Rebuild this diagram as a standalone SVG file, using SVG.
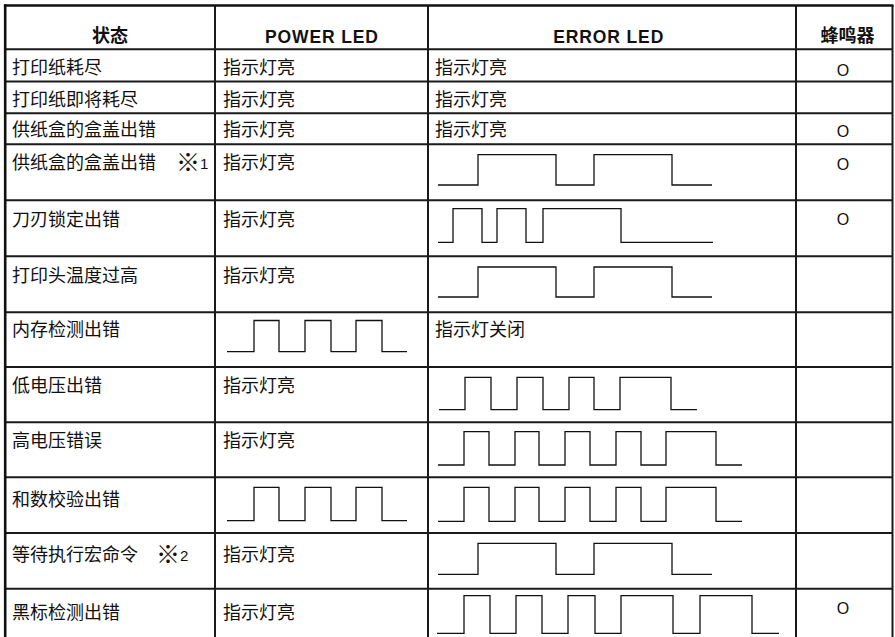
<svg xmlns="http://www.w3.org/2000/svg" width="895" height="637" viewBox="0 0 895 637">
<style>
.cj{font-family:"Noto Sans CJK SC","Noto Sans",sans-serif;font-size:18px;fill:#111}
.hd{font-family:"Noto Sans CJK SC",sans-serif;font-size:18px;font-weight:bold;fill:#111}
.hl{font-family:"Liberation Sans",Arial,sans-serif;font-size:17.5px;font-weight:bold;fill:#111}
.o{font-family:"Liberation Sans",Arial,sans-serif;font-size:16px;fill:#111;text-anchor:middle}
.n{font-family:"Liberation Sans",Arial,sans-serif;font-size:15px;fill:#111}
.rm{font-family:"Noto Sans CJK SC",sans-serif;font-size:24px;fill:#111}
.grid{stroke:#1a1a1a;stroke-width:2;fill:none}
.outer{stroke:#111;stroke-width:2.6;fill:none}
.wave{stroke:#111;stroke-width:1.3;fill:none;stroke-linejoin:miter}
</style>
<rect width="895" height="637" fill="#fff"/>
<g id="grid">
<line class="grid" x1="5" y1="49.3" x2="893" y2="49.3"/>
<line class="grid" x1="5" y1="81.6" x2="893" y2="81.6"/>
<line class="grid" x1="5" y1="113.2" x2="893" y2="113.2"/>
<line class="grid" x1="5" y1="144.2" x2="893" y2="144.2"/>
<line class="grid" x1="5" y1="200.2" x2="893" y2="200.2"/>
<line class="grid" x1="5" y1="256.2" x2="893" y2="256.2"/>
<line class="grid" x1="5" y1="312.2" x2="893" y2="312.2"/>
<line class="grid" x1="5" y1="367" x2="893" y2="367"/>
<line class="grid" x1="5" y1="422.3" x2="893" y2="422.3"/>
<line class="grid" x1="5" y1="477.3" x2="893" y2="477.3"/>
<line class="grid" x1="5" y1="533" x2="893" y2="533"/>
<line class="grid" x1="5" y1="588.7" x2="893" y2="588.7"/>
<line class="grid" x1="215" y1="5" x2="215" y2="637"/>
<line class="grid" x1="428" y1="5" x2="428" y2="637"/>
<line class="grid" x1="796" y1="5" x2="796" y2="637"/>
<line class="grid" x1="892.5" y1="5" x2="892.5" y2="637"/>
<line class="outer" x1="3.9" y1="5.5" x2="893.5" y2="5.5"/>
<line class="outer" x1="5.2" y1="4.2" x2="5.2" y2="637"/>
</g>
<g id="header">
<text class="hd" x="110" y="42" text-anchor="middle">状态</text>
<text class="hl" x="321.5" y="43.3" text-anchor="middle" textLength="113" lengthAdjust="spacing">POWER LED</text>
<text class="hl" x="608.3" y="43.3" text-anchor="middle" textLength="110" lengthAdjust="spacing">ERROR LED</text>
<text class="hd" x="847.5" y="42" text-anchor="middle">蜂鸣器</text>
</g>
<g id="row1">
<text class="cj" x="12" y="74">打印纸耗尽</text>
<text class="cj" x="223" y="74">指示灯亮</text>
<text class="cj" x="435" y="74">指示灯亮</text>
<text class="o" x="843" y="75.5">O</text>
</g>
<g id="row2">
<text class="cj" x="12" y="105.5">打印纸即将耗尽</text>
<text class="cj" x="223" y="105.5">指示灯亮</text>
<text class="cj" x="435" y="105.5">指示灯亮</text>
</g>
<g id="row3">
<text class="cj" x="12" y="136.3">供纸盒的盒盖出错</text>
<text class="cj" x="223" y="136.3">指示灯亮</text>
<text class="cj" x="435" y="136.3">指示灯亮</text>
<text class="o" x="843" y="137">O</text>
</g>
<g id="row4">
<text class="cj" x="12" y="169.3">供纸盒的盒盖出错</text>
<text class="rm" x="176" y="171">※<tspan class="n" dx="0" dy="-2">1</tspan></text>
<text class="cj" x="223" y="169.3">指示灯亮</text>
<polyline class="wave" points="438,185 478,185 478,154.7 556,154.7 556,185 594,185 594,154.7 672,154.7 672,185 712,185"/>
<text class="o" x="843" y="169.5">O</text>
</g>
<g id="row5">
<text class="cj" x="12" y="226">刀刃锁定出错</text>
<text class="cj" x="223" y="226">指示灯亮</text>
<polyline class="wave" points="438,242.3 453,242.3 453,208.7 482,208.7 482,242.3 497,242.3 497,208.7 526,208.7 526,242.3 543,242.3 543,208.7 621,208.7 621,242.3 713,242.3"/>
<text class="o" x="843" y="225">O</text>
</g>
<g id="row6">
<text class="cj" x="12" y="282">打印头温度过高</text>
<text class="cj" x="223" y="282">指示灯亮</text>
<polyline class="wave" points="438,297 478,297 478,267 556,267 556,297 594,297 594,267 672,267 672,297 712,297"/>
</g>
<g id="row7">
<text class="cj" x="12" y="336">内存检测出错</text>
<polyline class="wave" points="227,351.7 254,351.7 254,320.5 279,320.5 279,351.7 305,351.7 305,320.5 331,320.5 331,351.7 356,351.7 356,320.5 382,320.5 382,351.7 407,351.7"/>
<text class="cj" x="435" y="336">指示灯关闭</text>
</g>
<g id="row8">
<text class="cj" x="12" y="392">低电压出错</text>
<text class="cj" x="223" y="392">指示灯亮</text>
<polyline class="wave" points="439,409.7 465,409.7 465,377.3 491,377.3 491,409.7 517,409.7 517,377.3 543,377.3 543,409.7 569,409.7 569,377.3 594,377.3 594,409.7 620,409.7 620,377.3 671,377.3 671,409.7 697,409.7"/>
</g>
<g id="row9">
<text class="cj" x="12" y="447">高电压错误</text>
<text class="cj" x="223" y="447">指示灯亮</text>
<polyline class="wave" points="438,465 464,465 464,431.7 489,431.7 489,465 515,465 515,431.7 539,431.7 539,465 565,465 565,431.7 590,431.7 590,465 616,465 616,431.7 641,431.7 641,465 666,465 666,431.7 716,431.7 716,465 742,465"/>
</g>
<g id="row10">
<text class="cj" x="12" y="506">和数校验出错</text>
<polyline class="wave" points="227,520.7 254,520.7 254,487.3 279,487.3 279,520.7 305,520.7 305,487.3 331,487.3 331,520.7 356,520.7 356,487.3 382,487.3 382,520.7 407,520.7"/>
<polyline class="wave" points="438,521.3 464,521.3 464,487.3 489,487.3 489,521.3 515,521.3 515,487.3 539,487.3 539,521.3 565,521.3 565,487.3 590,487.3 590,521.3 616,521.3 616,487.3 641,487.3 641,521.3 666,521.3 666,487.3 716,487.3 716,521.3 742,521.3"/>
</g>
<g id="row11">
<text class="cj" x="12" y="561">等待执行宏命令</text>
<text class="rm" x="156" y="563">※<tspan class="n" dx="0" dy="-2">2</tspan></text>
<text class="cj" x="223" y="561">指示灯亮</text>
<polyline class="wave" points="438,574.3 478,574.3 478,543.3 556,543.3 556,574.3 594,574.3 594,543.3 672,543.3 672,574.3 712,574.3"/>
</g>
<g id="row12">
<text class="cj" x="12" y="619">黑标检测出错</text>
<text class="cj" x="223" y="619">指示灯亮</text>
<polyline class="wave" points="437,633.3 464,633.3 464,595.7 490,595.7 490,633.3 516,633.3 516,595.7 542,595.7 542,633.3 568,633.3 568,595.7 595,595.7 595,633.3 621,633.3 621,595.7 673,595.7 673,633.3 700,633.3 700,595.7 752,595.7 752,633.3 779,633.3"/>
<text class="o" x="843" y="613.5">O</text>
</g>
</svg>
